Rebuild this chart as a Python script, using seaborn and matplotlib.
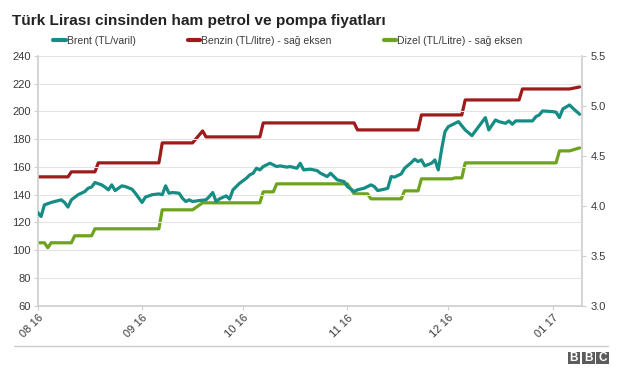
import matplotlib
matplotlib.use("Agg")
import matplotlib.pyplot as plt
import matplotlib.dates as mdates
from matplotlib.patches import Rectangle
from matplotlib.lines import Line2D
import pandas as pd
import seaborn as sns

# ---- data ----
title = "Türk Lirası cinsinden ham petrol ve pompa fiyatları"
brent_label = "Brent (TL/varil)"
benzin_label = "Benzin (TL/litre) - sağ eksen"
dizel_label = "Dizel (TL/Litre) - sağ eksen"

brent_dates = [
    "2016-08-01", "2016-08-02", "2016-08-03", "2016-08-05", "2016-08-06", "2016-08-08",
    "2016-08-09", "2016-08-10", "2016-08-11", "2016-08-13", "2016-08-15", "2016-08-16",
    "2016-08-17", "2016-08-18", "2016-08-20", "2016-08-21", "2016-08-22", "2016-08-23",
    "2016-08-24", "2016-08-26", "2016-08-27", "2016-08-29", "2016-08-30", "2016-09-01",
    "2016-09-02", "2016-09-04", "2016-09-06", "2016-09-07", "2016-09-08", "2016-09-09",
    "2016-09-10", "2016-09-12", "2016-09-13", "2016-09-14", "2016-09-15", "2016-09-16",
    "2016-09-18", "2016-09-20", "2016-09-21", "2016-09-22", "2016-09-23", "2016-09-24",
    "2016-09-26", "2016-09-27", "2016-09-28", "2016-09-29", "2016-09-30", "2016-10-02",
    "2016-10-03", "2016-10-04", "2016-10-05", "2016-10-06", "2016-10-07", "2016-10-09",
    "2016-10-11", "2016-10-12", "2016-10-14", "2016-10-15", "2016-10-17", "2016-10-18",
    "2016-10-19", "2016-10-21", "2016-10-23", "2016-10-24", "2016-10-26", "2016-10-27",
    "2016-10-28", "2016-10-29", "2016-10-31", "2016-11-01", "2016-11-03", "2016-11-04",
    "2016-11-06", "2016-11-08", "2016-11-09", "2016-11-10", "2016-11-12", "2016-11-13",
    "2016-11-14", "2016-11-15", "2016-11-17", "2016-11-18", "2016-11-20", "2016-11-21",
    "2016-11-22", "2016-11-23", "2016-11-24", "2016-11-26", "2016-11-27", "2016-11-28",
    "2016-11-29", "2016-11-30", "2016-12-01", "2016-12-04", "2016-12-06", "2016-12-08",
    "2016-12-10", "2016-12-12", "2016-12-13", "2016-12-15", "2016-12-16", "2016-12-18",
    "2016-12-19", "2016-12-20", "2016-12-21", "2016-12-24", "2016-12-26", "2016-12-27",
    "2016-12-28", "2016-12-29", "2017-01-01", "2017-01-02", "2017-01-03", "2017-01-04",
    "2017-01-06", "2017-01-07", "2017-01-09",
]
brent_values = [
    127.2, 124.3, 132.7, 134.4, 135.1, 136.3,
    134.4, 131.1, 136.3, 140.0, 142.3, 144.7,
    145.5, 148.8, 147.1, 145.5, 143.5, 147.1,
    143.0, 146.4, 145.9, 144.0, 141.1, 134.4,
    138.3, 140.0, 140.6, 140.0, 146.4, 141.1,
    141.6, 141.1, 137.5, 135.1, 136.3, 135.1,
    135.8, 136.3, 138.7, 141.6, 135.1, 137.0,
    139.2, 136.8, 143.5, 145.9, 148.3, 151.9,
    154.3, 155.5, 159.1, 157.9, 160.3, 162.7,
    160.3, 160.8, 159.9, 160.3, 159.1, 162.7,
    157.9, 158.4, 157.4, 155.5, 153.1, 155.5,
    153.1, 150.7, 149.5, 145.9, 142.3, 143.5,
    144.7, 147.1, 145.9, 143.0, 144.0, 144.7,
    153.1, 152.7, 155.0, 159.1, 163.2, 165.6,
    163.9, 165.1, 160.8, 162.7, 165.1, 157.9,
    172.8, 185.5, 189.1, 192.7, 186.7, 182.6,
    189.1, 195.6, 186.7, 193.9, 192.7, 191.5,
    193.2, 190.8, 193.2, 193.2, 193.2, 196.3,
    197.5, 200.4, 199.9, 199.5, 195.6, 201.8,
    204.7, 202.3, 198.0,
]

benzin_dates = [
    "2016-08-01", "2016-08-10", "2016-08-11", "2016-08-18", "2016-08-19", "2016-09-06",
    "2016-09-07", "2016-09-16", "2016-09-19", "2016-09-20", "2016-10-06", "2016-10-07",
    "2016-11-03", "2016-11-04", "2016-11-22", "2016-11-23", "2016-12-05", "2016-12-06",
    "2016-12-22", "2016-12-23", "2017-01-06", "2017-01-09",
]
benzin_values = [
    4.29, 4.29, 4.34, 4.34, 4.43, 4.43,
    4.63, 4.63, 4.75, 4.69, 4.69, 4.83,
    4.83, 4.76, 4.76, 4.91, 4.91, 5.06,
    5.06, 5.17, 5.17, 5.19,
]

dizel_dates = [
    "2016-08-01", "2016-08-03", "2016-08-04", "2016-08-05", "2016-08-11", "2016-08-12",
    "2016-08-17", "2016-08-18", "2016-09-06", "2016-09-07", "2016-09-16", "2016-09-19",
    "2016-10-06", "2016-10-07", "2016-10-10", "2016-10-11", "2016-11-01", "2016-11-03",
    "2016-11-07", "2016-11-08", "2016-11-17", "2016-11-18", "2016-11-22", "2016-11-23",
    "2016-12-02", "2016-12-03", "2016-12-05", "2016-12-06", "2017-01-02", "2017-01-03",
    "2017-01-06", "2017-01-09",
]
dizel_values = [
    3.63, 3.63, 3.58, 3.63, 3.63, 3.70,
    3.70, 3.77, 3.77, 3.96, 3.96, 4.03,
    4.03, 4.14, 4.14, 4.22, 4.22, 4.12,
    4.12, 4.07, 4.07, 4.15, 4.15, 4.27,
    4.27, 4.28, 4.28, 4.43, 4.43, 4.55,
    4.55, 4.58,
]

left_ticks = [60, 80, 100, 120, 140, 160, 180, 200, 220, 240]
right_ticks = [3.0, 3.5, 4.0, 4.5, 5.0, 5.5]
month_ticks = ["2016-08-01", "2016-09-01", "2016-10-01", "2016-11-01", "2016-12-01", "2017-01-01"]
x_start = "2016-08-01"
x_end = "2017-01-09 19:00"

# ---- style ----
sns.set_theme(style="white")
plt.rcParams["font.family"] = ["Liberation Sans", "DejaVu Sans"]

c_brent = "#168d84"
c_benzin = "#9e1b1b"
c_dizel = "#6ea31f"
c_text = "#3a3a3a"
c_grid = "#e4e4e4"
c_axis = "#cfcfcf"

brent = pd.DataFrame({"date": pd.to_datetime(brent_dates), "value": brent_values})
benzin = pd.DataFrame({"date": pd.to_datetime(benzin_dates), "value": benzin_values})
dizel = pd.DataFrame({"date": pd.to_datetime(dizel_dates), "value": dizel_values})

fig = plt.figure(figsize=(6.24, 3.75), dpi=100)
ax = fig.add_axes([37.7 / 624, 1 - 305.7 / 375, (582.3 - 37.7) / 624, (305.7 - 56) / 375])
ax2 = ax.twinx()

lw = 2.3
sns.lineplot(data=brent, x="date", y="value", ax=ax, color=c_brent, linewidth=lw,
             estimator=None, sort=False, zorder=3)
sns.lineplot(data=benzin, x="date", y="value", ax=ax2, color=c_benzin, linewidth=lw,
             estimator=None, sort=False)
sns.lineplot(data=dizel, x="date", y="value", ax=ax2, color=c_dizel, linewidth=lw,
             estimator=None, sort=False)

ax.set_zorder(ax2.get_zorder() + 1)
ax.patch.set_visible(False)

ax.set_xlim(pd.Timestamp(x_start), pd.Timestamp(x_end))
ax.set_ylim(left_ticks[0], left_ticks[-1])
ax2.set_ylim(right_ticks[0], right_ticks[-1])
ax.set_yticks(left_ticks)
ax2.set_yticks(right_ticks)
ax.set_xticks(pd.to_datetime(month_ticks))
ax.xaxis.set_major_formatter(mdates.DateFormatter("%m %y"))

ax.grid(axis="y", color=c_grid, linewidth=0.8)
ax.grid(axis="x", visible=False)
ax2.grid(False)

for a in (ax, ax2):
    a.set_xlabel("")
    a.set_ylabel("")
    for s in a.spines.values():
        s.set_visible(False)
ax.spines["left"].set_visible(True)
ax.spines["left"].set_color(c_axis)
ax.spines["bottom"].set_visible(True)
ax.spines["bottom"].set_color(c_axis)
ax2.spines["right"].set_visible(True)
ax2.spines["right"].set_color(c_axis)

ax.tick_params(axis="y", which="major", length=3, width=0.8, color=c_axis,
               labelsize=8, labelcolor=c_text, pad=2, left=True)
ax.tick_params(axis="x", which="major", length=3, width=0.8, color=c_axis,
               labelsize=8, labelcolor=c_text, pad=2, bottom=True)
ax2.tick_params(axis="y", which="major", length=3, width=0.8, color=c_axis,
                labelsize=8, labelcolor=c_text, pad=3, right=True)
for lab in ax.get_xticklabels():
    lab.set_rotation(45)
    lab.set_ha("right")
    lab.set_rotation_mode("anchor")

# title
fig.text(12 / 624, 1 - 24.5 / 375, title, fontsize=11.1, fontweight="bold", color="#222222",
         ha="left", va="baseline")

# legend
handles = [Line2D([], [], color=c_brent, linewidth=3),
           Line2D([], [], color=c_benzin, linewidth=3),
           Line2D([], [], color=c_dizel, linewidth=3)]
fig.legend(handles, [brent_label, benzin_label, dizel_label], loc="center left",
           bbox_to_anchor=(53 / 624, 1 - 41 / 375), ncol=3, frameon=False,
           fontsize=7.5, handlelength=1.2, handletextpad=0.1, columnspacing=5.0,
           borderaxespad=0, borderpad=0, labelcolor=c_text)

# bottom rule
fig.add_artist(Line2D([14 / 624, 608 / 624], [1 - 345.7 / 375, 1 - 345.7 / 375],
                      color="#cccccc", linewidth=1))

# BBC logo
box_w, gap = 12.6, 1.6
x0 = 567.7
for i, letter in enumerate("BBC"):
    bx = x0 + i * (box_w + gap)
    fig.add_artist(Rectangle((bx / 624, 1 - 363.5 / 375), box_w / 624, 11.5 / 375,
                             facecolor="#5c5c5c", edgecolor="none", transform=fig.transFigure))
    fig.text((bx + box_w / 2) / 624, 1 - 357.8 / 375, letter, color="white", fontsize=8.5,
             fontweight="bold", ha="center", va="center")

fig.savefig("out.png", dpi=100)
